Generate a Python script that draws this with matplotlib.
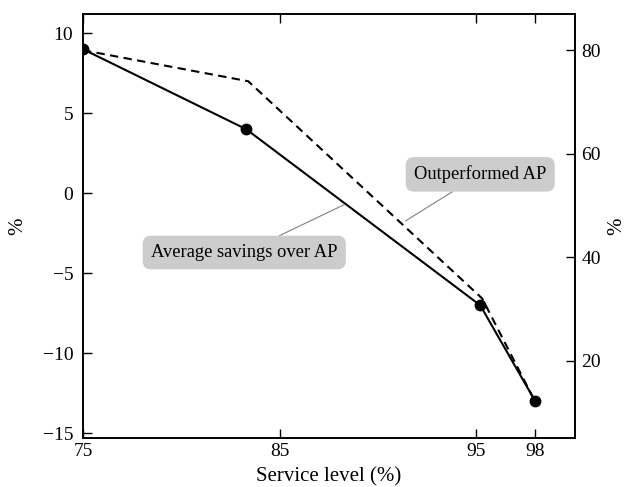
import matplotlib
matplotlib.use('Agg')
import matplotlib.pyplot as plt

plt.rcParams['font.family'] = ['Liberation Serif', 'DejaVu Serif']
plt.rcParams['mathtext.fontset'] = 'stix'

# service level (%) and the two series
service = [75, 83.3, 95.2, 98]
savings = [9, 4, -7, -13]          # average savings over AP (%), left axis
service_out = [75, 83.4, 95.3, 98]
outperformed = [80, 74, 32, 12]    # share outperforming AP (%), right axis

xticks = [75, 85, 95, 98]
yticks_left = [-15, -10, -5, 0, 5, 10]
yticks_right = [20, 40, 60, 80]

fig = plt.figure(figsize=(6.26, 4.87), dpi=100)
ax = fig.add_axes([0.1326, 0.1012, 0.7854, 0.8701])
ax2 = ax.twinx()

ax.plot(service, savings, 'k-', lw=1.5, marker='o', ms=7.5, zorder=3)
ax2.plot(service_out, outperformed, 'k--', lw=1.5, dashes=(4, 2.6))

ax.set_xlim(75, 100)
ax.set_ylim(-15.27, 11.2)
ax2.set_ylim(5.1, 87)

ax.set_xticks(xticks)
ax.set_yticks(yticks_left)
ax.set_yticklabels(['\u221215', '\u221210', '\u22125', '0', '5', '10'])
ax2.set_yticks(yticks_right)

ax.tick_params(axis='x', direction='in', top=True, length=6.3, width=1, labelsize=14, pad=4)
ax.tick_params(axis='y', direction='in', length=6.3, width=1, labelsize=14, pad=7)
ax2.tick_params(axis='y', direction='in', length=6.3, width=1, labelsize=14, pad=5)

for a in (ax, ax2):
    for s in a.spines.values():
        s.set_linewidth(1.2)

ax.set_xlabel('Service level (%)', fontsize=15, labelpad=5)
ax.set_ylabel('%', fontsize=15, labelpad=11)
ax2.set_ylabel('%', fontsize=15, rotation=90, labelpad=4)

box = dict(boxstyle='round,pad=0.45', fc='#cccccc', ec='none')
line = dict(arrowstyle='-', color='#808080', lw=0.8, shrinkA=0, shrinkB=0)
ax.annotate('Average savings over AP', xy=(88.3, -0.7), xytext=(83.2, -3.7),
            ha='center', va='center', fontsize=13.3, bbox=box, arrowprops=line)
ax2.annotate('Outperformed AP', xy=(91.4, 47), xytext=(95.2, 56),
             ha='center', va='center', fontsize=13.3, bbox=box, arrowprops=line)

plt.savefig('out.png', dpi=100)
